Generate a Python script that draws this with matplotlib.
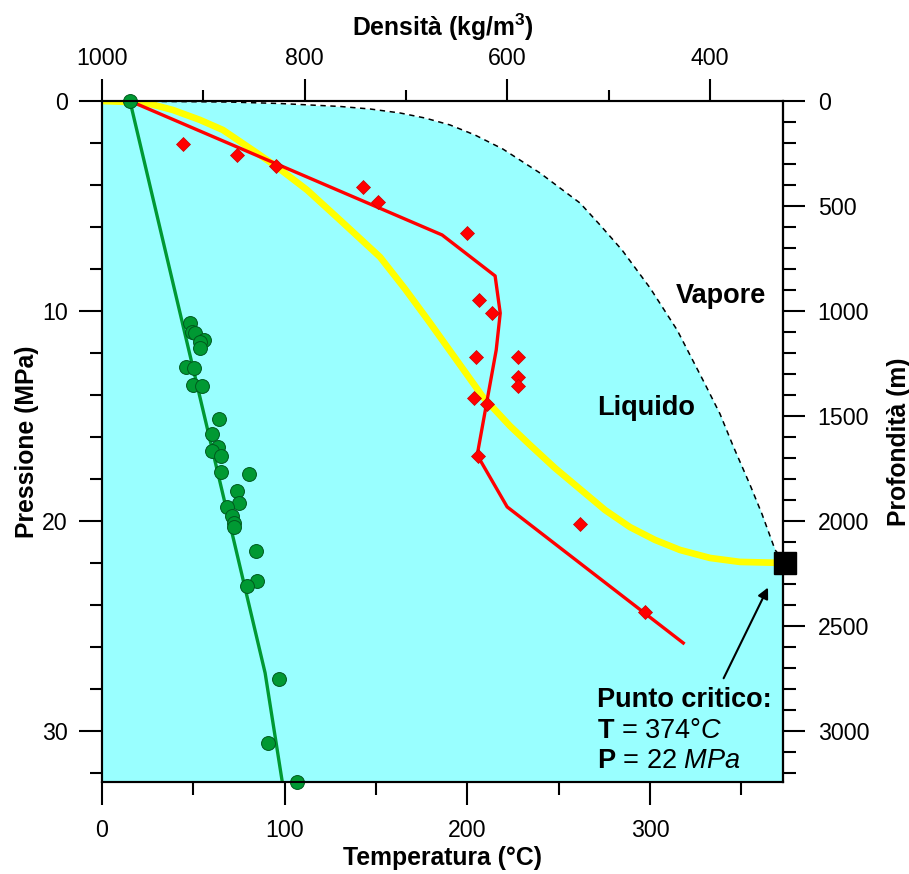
import numpy as np
import matplotlib.pyplot as plt
from matplotlib.ticker import MultipleLocator

plt.rcParams['font.family'] = ['Liberation Sans', 'DejaVu Sans']
plt.rcParams['mathtext.fontset'] = 'custom'
plt.rcParams['mathtext.rm'] = 'Liberation Sans'
plt.rcParams['mathtext.it'] = 'Liberation Sans:italic'
plt.rcParams['mathtext.bf'] = 'Liberation Sans:bold'

# ------------------ dati ------------------ #

# limite liquido / vapore (tratteggiato)
sat_t = [0, 70.1, 97.4, 130.3, 146.7, 163.1, 176.8, 190.5, 204.2, 219.5, 239.8,
         261.7, 272.6, 284.7, 300.0, 314.8, 330.1, 338.3, 345.5, 354.8, 361.3,
         368.5, 374]
sat_p = [0, 0.05, 0.12, 0.26, 0.38, 0.57, 0.81, 1.14, 1.62, 2.29, 3.43,
         4.86, 5.90, 7.10, 8.90, 10.90, 13.48, 14.90, 16.43, 18.29, 19.67,
         21.38, 22.0]

# curva di ebollizione con la profondita' (gialla)
boil_t = [0, 15.3, 26.3, 38.9, 53.6, 66.2, 84.9, 95.8, 112.3, 130.3, 152.2, 165.9,
          179.6, 208.6, 223.4, 234.3, 248.0, 261.7, 275.4, 289.0, 302.7, 316.4,
          332.8, 349.3, 374]
boil_p = [0, 0.05, 0.14, 0.43, 0.90, 1.38, 2.48, 3.14, 4.24, 5.67, 7.43, 8.95,
          10.57, 14.1, 15.48, 16.38, 17.48, 18.48, 19.48, 20.29, 20.90, 21.38,
          21.76, 21.95, 22.0]

# profilo pozzo caldo (rosso)
red_t = [15.3, 186.2, 215.2, 218.0, 215.8, 205.4, 221.8, 318.2]
red_p = [0.0, 6.38, 8.33, 10.1, 11.86, 16.86, 19.33, 25.81]
red_pt_t = [44.2, 74.1, 95.1, 143.1, 151.0, 199.7, 206.6, 213.6, 204.7, 227.7,
            227.7, 227.7, 203.7, 210.7, 205.8, 261.8, 297.4]
red_pt_p = [2.05, 2.57, 3.08, 4.08, 4.82, 6.30, 9.48, 10.11, 12.18, 12.18,
            13.16, 13.57, 14.16, 14.43, 16.9, 20.16, 24.32]

# profilo pozzo freddo (verde)
green_t = [15.3, 89.3, 99.0]
green_p = [0.0, 27.24, 32.6]
green_pt_t = [15.3, 48.2, 49.1, 50.9, 56.0, 53.7, 53.7, 45.8, 50.4, 50.0, 54.9,
              64.1, 60.1, 63.5, 60.1, 65.2, 65.0, 80.7, 74.1, 75.2, 68.3, 71.0,
              72.3, 72.1, 84.2, 84.7, 79.2, 96.9, 90.7, 106.6]
green_pt_p = [0.0, 10.59, 11.01, 11.05, 11.38, 11.46, 11.78, 12.65, 12.73, 13.52,
              13.56, 15.16, 15.87, 16.48, 16.65, 16.89, 17.65, 17.75, 18.56, 19.16,
              19.32, 19.76, 20.08, 20.27, 21.45, 22.86, 23.08, 27.51, 30.59, 32.44]

# punto critico
crit_t, crit_p = 374, 22

t_lim = (0, 372.8)
p_lim = (32.43, 0)
dens_lim = (1000, 328)

# ------------------ figura ------------------ #

fig = plt.figure(figsize=(9.09, 8.74), dpi=100)
ax = fig.add_axes([102 / 909, 92 / 874, 681 / 909, 681 / 874])

ax.fill_betweenx(np.r_[sat_p, p_lim[0]], 0, np.r_[sat_t, crit_t],
                 color='#99ffff', lw=0, zorder=0)
ax.plot(sat_t, sat_p, color='k', lw=1.1, ls=(0, (3.5, 3)), zorder=1)
ax.plot(boil_t, boil_p, color='#ffff00', lw=4.8, zorder=2,
        solid_capstyle='butt', solid_joinstyle='round')
ax.plot(green_t, green_p, color='#009933', lw=2.4, zorder=3)
ax.plot(red_t, red_p, color='#ff0000', lw=2.4, zorder=3)
ax.plot(red_pt_t, red_pt_p, ls='none', marker='D', ms=6.8, mfc='#ff0000',
        mec='#cc0000', mew=0.5, zorder=4, clip_on=False)
ax.plot(green_pt_t, green_pt_p, ls='none', marker='o', ms=10, mfc='#009933',
        mec='#005a1e', mew=0.7, zorder=5, clip_on=False)
ax.plot([crit_t], [crit_p], ls='none', marker='s', ms=15.5, color='k',
        zorder=6, clip_on=False)

ax.set_xlim(*t_lim)
ax.set_ylim(*p_lim)

ax.xaxis.set_major_locator(MultipleLocator(100))
ax.xaxis.set_minor_locator(MultipleLocator(50))
ax.yaxis.set_major_locator(MultipleLocator(10))
ax.yaxis.set_minor_locator(MultipleLocator(2))
ax.tick_params(which='both', direction='out', width=1.5, labelsize=16.7)
ax.tick_params(which='major', length=16.5)
ax.tick_params(which='minor', length=9)
ax.tick_params(axis='x', pad=10)
ax.tick_params(axis='y', pad=8)

ax.set_xlabel('Temperatura (°C)', fontsize=17.8, fontweight='bold', labelpad=3)
ax.set_ylabel('Pressione (MPa)', fontsize=17.8, fontweight='bold', labelpad=2.5)

for s in ax.spines.values():
    s.set_linewidth(1.5)

# asse superiore: densita'
ax_top = ax.twiny()
ax_top.set_xlim(*dens_lim)
ax_top.xaxis.set_major_locator(MultipleLocator(200))
ax_top.xaxis.set_minor_locator(MultipleLocator(100))
ax_top.tick_params(which='both', direction='out', width=1.5, labelsize=16.7, pad=7)
ax_top.tick_params(which='major', length=15.5)
ax_top.tick_params(which='minor', length=8)
ax_top.set_xlabel(r'Densità (kg/m$^\mathbf{3}$)', fontsize=17.8, fontweight='bold',
                  labelpad=8)
for s in ax_top.spines.values():
    s.set_linewidth(1.5)

# asse destro: profondita' (100 m per MPa)
ax_r = ax.secondary_yaxis('right', functions=(lambda p: p * 100, lambda d: d / 100))
ax_r.yaxis.set_major_locator(MultipleLocator(500))
ax_r.yaxis.set_minor_locator(MultipleLocator(100))
ax_r.tick_params(which='both', direction='out', width=1.5, labelsize=16.7, pad=9)
ax_r.tick_params(which='major', length=16)
ax_r.tick_params(which='minor', length=9.5)
ax_r.set_ylabel('Profondità (m)', fontsize=17.8, fontweight='bold', labelpad=12.5)
ax_r.spines['right'].set_linewidth(1.5)

# testi vuoti (offset / titoli) nascosti
for a in (ax, ax_top, ax_r):
    a.xaxis.get_offset_text().set_visible(False)
    a.yaxis.get_offset_text().set_visible(False)
    a.title.set_visible(False)
    a._left_title.set_visible(False)
    a._right_title.set_visible(False)

# testi
ax.text(314.3, 9.62, 'Vapore', fontsize=19.5, fontweight='bold', ha='left',
        va='baseline', zorder=7)
ax.text(271.1, 14.95, 'Liquido', fontsize=19.5, fontweight='bold', ha='left',
        va='baseline', zorder=7)
ax.text(270.9, 28.84, 'Punto critico:', fontsize=19.5, fontweight='bold',
        ha='left', va='baseline', zorder=7)
ax.text(270.9, 30.35, r'$\mathbf{T}$ = 374°$\mathit{C}$', fontsize=19.5,
        ha='left', va='baseline', zorder=7)
ax.text(270.9, 31.78, r'$\mathbf{P}$ = 22 $\mathit{MPa}$', fontsize=19.5,
        ha='left', va='baseline', zorder=7)
ax.annotate('', xy=(364.6, 23.17), xytext=(340.3, 27.49),
            arrowprops=dict(arrowstyle='-|>', color='k', lw=1.5,
                            mutation_scale=16, shrinkA=0, shrinkB=0),
            zorder=7)

fig.savefig('out.png', dpi=100, facecolor='white')
